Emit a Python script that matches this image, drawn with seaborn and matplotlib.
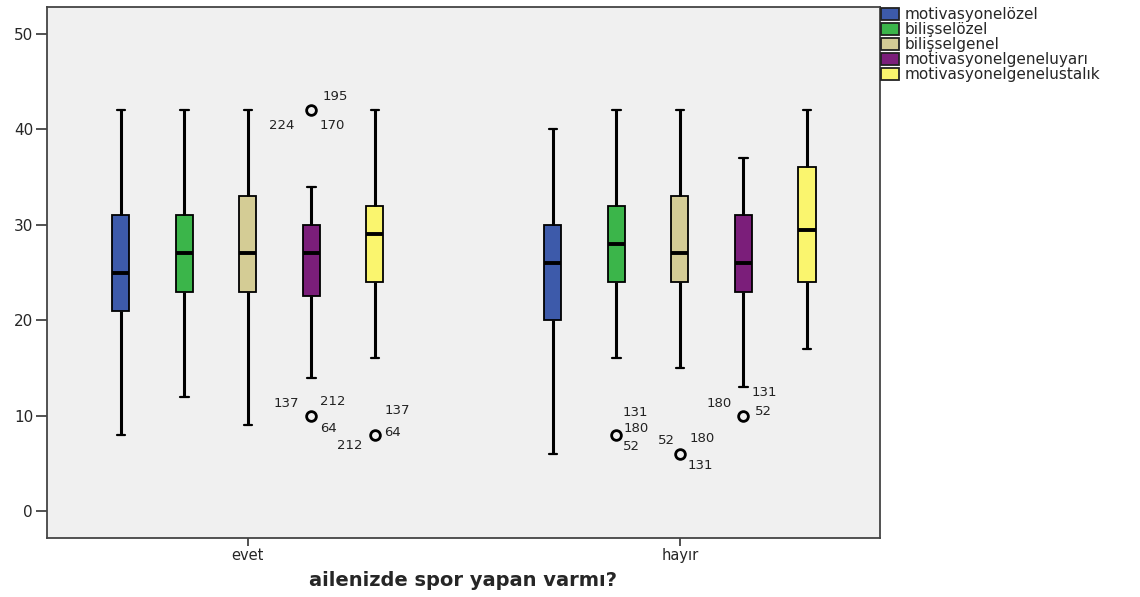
import matplotlib
matplotlib.use("Agg")
import pandas as pd
import matplotlib.pyplot as plt
import seaborn as sns

# categories
groups = ["evet", "hayır"]
variables = ["motivasyonelözel", "bilişselözel", "bilişselgenel",
             "motivasyonelgeneluyarı", "motivasyonelgenelustalık"]
colors = ["#3D5AAA", "#3BB54A", "#D4CC95", "#7B1E7A", "#FAF56E"]

# box summaries (one value per variable, in order)
lower_whisker = {"evet": [8, 12, 9, 14, 16], "hayır": [6, 16, 15, 13, 17]}
q1 = {"evet": [21, 23, 23, 22.5, 24], "hayır": [20, 24, 24, 23, 24]}
median = {"evet": [25, 27, 27, 27, 29], "hayır": [26, 28, 27, 26, 29.5]}
q3 = {"evet": [31, 31, 33, 30, 32], "hayır": [30, 32, 33, 31, 36]}
upper_whisker = {"evet": [42, 42, 42, 34, 42], "hayır": [40, 42, 42, 37, 42]}

# outliers: group, variable index, value, case numbers
outlier_groups = ["evet", "evet", "evet", "hayır", "hayır", "hayır"]
outlier_vars = [3, 3, 4, 1, 2, 3]
outlier_values = [42, 10, 8, 8, 6, 10]
outlier_cases = [["195", "224", "170"], ["137", "212", "64"], ["137", "64", "212"],
                 ["131", "180", "52"], ["52", "180", "131"], ["180", "131", "52"]]

# label placement around each circle (pixels, y up)
label_offsets = [[(24, 14), (-30, -15), (21, -15)],
                 [(-25, 12), (21, 14), (17, -13)],
                 [(22, 24), (18, 2), (-25, -11)],
                 [(19, 22), (20, 6), (15, -12)],
                 [(-13, 13), (22, 15), (20, -12)],
                 [(-24, 12), (21, 23), (20, 4)]]

# build a sample per box that reproduces the summary
rows = []
for g in groups:
    for i, v in enumerate(variables):
        vals = ([lower_whisker[g][i]] + [q1[g][i]] * 20 + [median[g][i]] * 11
                + [q3[g][i]] * 20 + [upper_whisker[g][i]])
        for og, oi, ov in zip(outlier_groups, outlier_vars, outlier_values):
            if og == g and oi == i:
                vals.append(ov)
        rows += [{"grup": g, "degisken": v, "puan": x} for x in vals]
df = pd.DataFrame(rows)

sns.set_style("white")
plt.rcParams["font.family"] = ["DejaVu Sans"]

fig = plt.figure(figsize=(11.4, 5.97), dpi=100)
ax = fig.add_axes([0.0412, 0.0988, 0.7307, 0.8895])
ax.set_facecolor("#F0F0F0")

sns.boxplot(data=df, x="grup", y="puan", hue="degisken", order=groups,
            hue_order=variables, palette=colors, width=0.735, gap=0.73,
            linecolor="black", linewidth=1.3, saturation=1, ax=ax,
            medianprops=dict(linewidth=2.8),
            whiskerprops=dict(linewidth=2.2),
            capprops=dict(linewidth=1.6),
            flierprops=dict(marker="o", markerfacecolor="none",
                            markeredgecolor="black", markeredgewidth=2,
                            markersize=7))

# label the outlier circles with case numbers
fliers = []
for line in ax.lines:
    if line.get_marker() == "o":
        for x, y in zip(line.get_xdata(), line.get_ydata()):
            fliers.append((x, y))
for og, ov, cases, offs in zip(outlier_groups, outlier_values, outlier_cases, label_offsets):
    gi = groups.index(og)
    for x, y in fliers:
        if round(x) == gi and y == ov:
            for c, (dx, dy) in zip(cases, offs):
                ax.annotate(c, xy=(x, y), xytext=(dx, dy), textcoords="offset pixels",
                            ha="center", va="center", fontsize=9.5, color="#222222")
            break

ax.set_ylim(-2.8, 52.8)
ax.set_xlim(-0.465, 1.463)
ax.set_yticks([0, 10, 20, 30, 40, 50])
ax.set_xlabel("ailenizde spor yapan varmı?", fontsize=14, fontweight="bold", labelpad=6)
ax.set_ylabel("")
ax.tick_params(axis="y", length=8, width=1.2, color="#333333", labelsize=11,
               direction="out", left=True, pad=2)
ax.tick_params(axis="x", length=6, width=1.2, color="#333333", labelsize=10.5,
               direction="out", bottom=True, pad=1)
for s in ax.spines.values():
    s.set_color("#444444")
    s.set_linewidth(1.3)

sns.move_legend(ax, "upper left", bbox_to_anchor=(0.773, 0.988),
                bbox_transform=fig.transFigure, frameon=False, title=None,
                fontsize=11, handlelength=1.15, handleheight=0.8,
                handletextpad=0.4, labelspacing=0.0, borderaxespad=0,
                borderpad=0)
for h in ax.get_legend().get_patches():
    h.set_edgecolor("#222222")

fig.savefig("out.png", dpi=100)
